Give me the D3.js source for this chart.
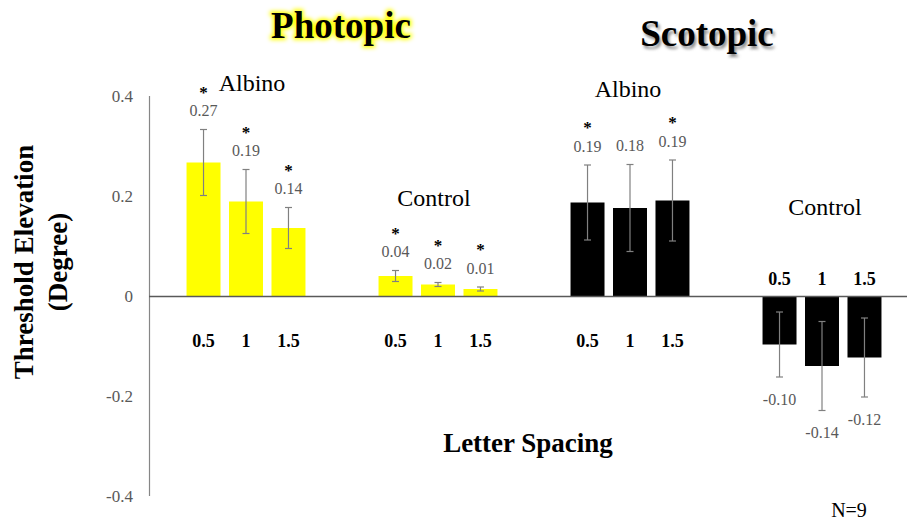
<!DOCTYPE html>
<html>
<head>
<meta charset="utf-8">
<script src="https://d3js.org/d3.v7.min.js"></script>
<style>
  body { margin: 0; background: #fff; }
  svg text { font-family: "Liberation Serif", "Times New Roman", serif; }
</style>
</head>
<body>
<script>
// data
var groups = ["Photopic Albino", "Photopic Control", "Scotopic Albino", "Scotopic Control"];
var groupNames = ["Albino", "Control", "Albino", "Control"];
var spacings = ["0.5", "1", "1.5"];
var photopicAlbino = [0.267, 0.189, 0.136];
var photopicControl = [0.040, 0.023, 0.014];
var scotopicAlbino = [0.187, 0.176, 0.191];
var scotopicControl = [-0.097, -0.140, -0.123];
var photopicAlbinoErr = [0.066, 0.064, 0.041];
var photopicControlErr = [0.011, 0.004, 0.004];
var scotopicAlbinoErr = [0.075, 0.087, 0.081];
var scotopicControlErr = [0.065, 0.089, 0.079];
var stars = [[1, 1, 1], [1, 1, 1], [1, 0, 1], [0, 0, 0]];
var yTicks = [-0.4, -0.2, 0, 0.2, 0.4];

var means = [photopicAlbino, photopicControl, scotopicAlbino, scotopicControl];
var errs = [photopicAlbinoErr, photopicControlErr, scotopicAlbinoErr, scotopicControlErr];
var colors = ["#ffff00", "#ffff00", "#000000", "#000000"];

var width = 907, height = 524;

var svg = d3.select("body").append("svg")
    .attr("width", width)
    .attr("height", height);

var defs = svg.append("defs");
defs.append("filter").attr("id", "glow")
    .attr("x", "-20%").attr("y", "-40%").attr("width", "140%").attr("height", "180%")
  .append("feGaussianBlur").attr("stdDeviation", 2);
defs.append("filter").attr("id", "shadow")
    .attr("x", "-20%").attr("y", "-40%").attr("width", "140%").attr("height", "180%")
  .append("feGaussianBlur").attr("stdDeviation", 1.5);

var y = d3.scaleLinear().domain([-0.4, 0.4]).range([496, 96]);
var x0 = d3.scaleBand().domain(groups).range([150, 918]);
var x1 = d3.scaleBand().domain(spacings).range([0, x0.bandwidth()])
    .paddingInner(0.2).paddingOuter(0.86);

var fmt = function(f) { return function(v) { return d3.format(f)(v).replace("\u2212", "-"); }; };

// flatten into rows
var rows = [];
groups.forEach(function(g, gi) {
    spacings.forEach(function(s, si) {
        rows.push({g: g, gi: gi, s: s, v: means[gi][si], e: errs[gi][si], star: stars[gi][si]});
    });
});
function cx(d) { return x0(d.g) + x1(d.s) + x1.bandwidth() / 2; }
function labelY(d) { return d.v >= 0 ? y(d.v + d.e) - 19 : y(d.v - d.e) + 22; }

// y axis labels
svg.selectAll(".ytick")
    .data(yTicks)
    .enter().append("text")
    .attr("x", 133)
    .attr("y", function(d) { return y(d); })
    .attr("dy", "0.35em")
    .attr("text-anchor", "end")
    .attr("font-size", 17)
    .attr("fill", "#595959")
    .text(function(d) { return d === 0 ? "0" : fmt(".1f")(d); });

// bars
svg.selectAll(".bar")
    .data(rows)
    .enter().append("rect")
    .attr("x", function(d) { return x0(d.g) + x1(d.s); })
    .attr("width", x1.bandwidth())
    .attr("y", function(d) { return y(Math.max(0, d.v)); })
    .attr("height", function(d) { return Math.abs(y(d.v) - y(0)); })
    .attr("fill", function(d) { return colors[d.gi]; });

// axes lines
svg.append("line")
    .attr("x1", 149.5).attr("x2", 149.5)
    .attr("y1", y(0.4)).attr("y2", y(-0.4))
    .attr("stroke", "#868686").attr("stroke-width", 1.2);
svg.append("line")
    .attr("x1", 149).attr("x2", width)
    .attr("y1", y(0) + 0.5).attr("y2", y(0) + 0.5)
    .attr("stroke", "#595959").attr("stroke-width", 1.3);

// error bars
var eb = svg.selectAll(".err")
    .data(rows)
    .enter().append("g")
    .attr("stroke", "#808080")
    .attr("stroke-width", 1.2);
eb.append("line")
    .attr("x1", cx).attr("x2", cx)
    .attr("y1", function(d) { return y(d.v + d.e); })
    .attr("y2", function(d) { return y(d.v - d.e); });
eb.append("line")
    .attr("x1", function(d) { return cx(d) - 3.5; })
    .attr("x2", function(d) { return cx(d) + 3.5; })
    .attr("y1", function(d) { return y(d.v + d.e); })
    .attr("y2", function(d) { return y(d.v + d.e); });
eb.append("line")
    .attr("x1", function(d) { return cx(d) - 3.5; })
    .attr("x2", function(d) { return cx(d) + 3.5; })
    .attr("y1", function(d) { return y(d.v - d.e); })
    .attr("y2", function(d) { return y(d.v - d.e); });

// value labels
svg.selectAll(".val")
    .data(rows)
    .enter().append("text")
    .attr("x", cx)
    .attr("y", labelY)
    .attr("dy", "0.35em")
    .attr("text-anchor", "middle")
    .attr("font-size", 16)
    .attr("fill", "#595959")
    .text(function(d) { return fmt(".2f")(d.v); });

// significance stars
svg.selectAll(".star")
    .data(rows.filter(function(d) { return d.star; }))
    .enter().append("text")
    .attr("x", cx)
    .attr("y", function(d) { return labelY(d) - 13; })
    .attr("text-anchor", "middle")
    .attr("font-size", 17)
    .attr("font-weight", "bold")
    .text("*");

// letter spacing labels
svg.selectAll(".cat")
    .data(rows)
    .enter().append("text")
    .attr("x", cx)
    .attr("y", function(d) { return d.gi === 3 ? 279 : 341; })
    .attr("dy", "0.35em")
    .attr("text-anchor", "middle")
    .attr("font-size", 18)
    .attr("font-weight", "bold")
    .text(function(d) { return d.s; });

// group labels
var groupLabelY = [91, 206, 97, 215];
var groupLabelDx = [6, -4, -2, 3];
svg.selectAll(".grp")
    .data(groups)
    .enter().append("text")
    .attr("x", function(d, i) { return x0(d) + x0.bandwidth() / 2 + groupLabelDx[i]; })
    .attr("y", function(d, i) { return groupLabelY[i]; })
    .attr("text-anchor", "middle")
    .attr("font-size", 24)
    .text(function(d, i) { return groupNames[i]; });

// titles
function title(txt, xc, yb, glowColor, filter, dx, dy) {
    svg.append("text")
        .attr("x", xc + dx).attr("y", yb + dy)
        .attr("text-anchor", "middle")
        .attr("font-size", 37).attr("font-weight", "bold")
        .attr("fill", glowColor)
        .attr("stroke", glowColor).attr("stroke-width", filter === "glow" ? 3.5 : 0)
        .attr("filter", "url(#" + filter + ")")
        .text(txt);
    svg.append("text")
        .attr("x", xc).attr("y", yb)
        .attr("text-anchor", "middle")
        .attr("font-size", 37).attr("font-weight", "bold")
        .attr("fill", "#000")
        .text(txt);
}
title("Photopic", 341, 38, "#ffff00", "glow", 0, 0);
title("Scotopic", 707, 46, "#8c8c8c", "shadow", 2, 3);

// axis titles
var yt = svg.append("text")
    .attr("transform", "translate(24,262) rotate(-90)")
    .attr("text-anchor", "middle")
    .attr("font-size", 27)
    .attr("font-weight", "bold");
yt.append("tspan").attr("x", 0).attr("dy", "0.35em").text("Threshold Elevation");
yt.append("tspan").attr("x", 0).attr("dy", "1.25em").text("(Degree)");

svg.append("text")
    .attr("x", 528).attr("y", 452)
    .attr("text-anchor", "middle")
    .attr("font-size", 27)
    .attr("font-weight", "bold")
    .text("Letter Spacing");

svg.append("text")
    .attr("x", 849).attr("y", 517)
    .attr("text-anchor", "middle")
    .attr("font-size", 20)
    .text("N=9");
</script>
</body>
</html>
